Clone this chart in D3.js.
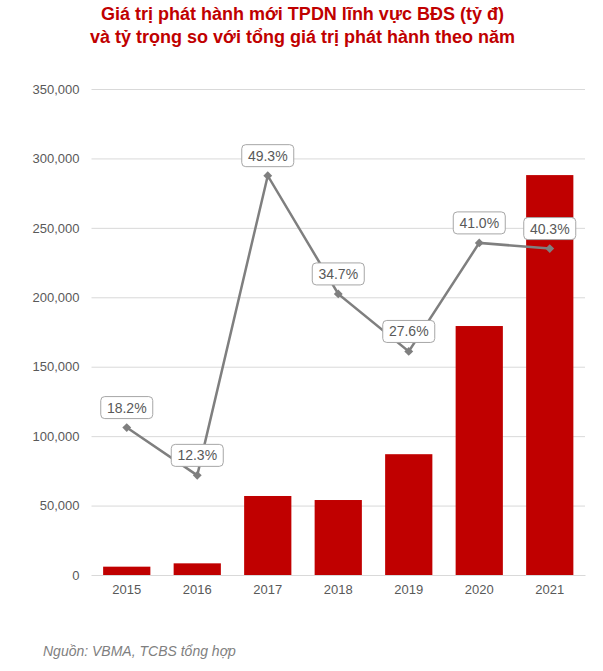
<!DOCTYPE html>
<html><head><meta charset="utf-8">
<script src="https://cdn.jsdelivr.net/npm/d3@7"></script>
<style>body{margin:0;background:#fff}svg{display:block}</style>
</head><body>
<script>
const years = ["2015","2016","2017","2018","2019","2020","2021"];
const issueValues = [6000, 8400, 56900, 54000, 87000, 179300, 288000];
const sharePct = [18.2, 12.3, 49.3, 34.7, 27.6, 41.0, 40.3];
const yTicks = [0, 50000, 100000, 150000, 200000, 250000, 300000, 350000];
const titleLines = ["Giá trị phát hành mới TPDN lĩnh vực BĐS (tỷ đ)", "và tỷ trọng so với tổng giá trị phát hành theo năm"];
const sourceText = "Nguồn: VBMA, TCBS tổng hợp";

const W = 603, H = 671;
const m = {left: 91.5, right: 18, top: 89, bottom: 96};
const svg = d3.select("body").append("svg").attr("width", W).attr("height", H)
  .style("font-family", "'Liberation Sans', Arial, sans-serif");

const x = d3.scaleBand().domain(years).range([m.left, W - m.right]).paddingInner(0.33).paddingOuter(0.165);
const y = d3.scaleLinear().domain([0, 350000]).range([H - m.bottom, m.top]);
const y2 = d3.scaleLinear().domain([0, 60]).range([H - m.bottom, m.top]);

// title
svg.append("g").selectAll("text").data(titleLines).join("text")
  .attr("x", W/2 + 1).attr("y", (d,i) => 20 + i*23)
  .attr("text-anchor", "middle").attr("font-size", 18).attr("font-weight", "bold")
  .attr("fill", "#c00000").text(d => d);

// grid + y axis
const ya = svg.append("g").attr("transform", `translate(${m.left},0)`)
  .call(d3.axisLeft(y).tickValues(yTicks).tickSize(-(W - m.right - m.left)).tickPadding(12).tickFormat(d3.format(",")));
ya.select(".domain").remove();
ya.selectAll(".tick line").attr("stroke", "#d9d9d9").attr("stroke-width", 1);
ya.selectAll(".tick text").attr("fill", "#595959").attr("font-size", 13)
  .style("font-family", "'Liberation Sans', Arial, sans-serif");

// bars
svg.append("g").selectAll("rect").data(years).join("rect")
  .attr("x", d => x(d)).attr("width", x.bandwidth())
  .attr("y", (d,i) => y(issueValues[i])).attr("height", (d,i) => y(0) - y(issueValues[i]))
  .attr("fill", "#c00000");

// x axis
const xa = svg.append("g").attr("transform", `translate(0,${H - m.bottom})`)
  .call(d3.axisBottom(x).tickSize(0).tickPadding(10));
xa.select(".domain").attr("stroke", "#d9d9d9");
xa.selectAll(".tick text").attr("fill", "#595959").attr("font-size", 13)
  .style("font-family", "'Liberation Sans', Arial, sans-serif");

// line
const cx = d => x(d) + x.bandwidth()/2;
const line = d3.line().x((d,i) => cx(years[i])).y(d => y2(d));
svg.append("path").datum(sharePct).attr("d", line)
  .attr("fill", "none").attr("stroke", "#7f7f7f").attr("stroke-width", 2.5);
svg.append("g").selectAll("path").data(sharePct).join("path")
  .attr("d", d3.symbol(d3.symbolDiamond2, 50)())
  .attr("transform", (d,i) => `translate(${cx(years[i])},${y2(d)})`)
  .attr("fill", "#7f7f7f");

// labels
const lg = svg.append("g").selectAll("g").data(sharePct).join("g")
  .attr("transform", (d,i) => `translate(${cx(years[i])},${y2(d) - 20})`);
lg.append("rect").attr("x", -26).attr("y", -11).attr("width", 52).attr("height", 22)
  .attr("rx", 4).attr("fill", "#fff").attr("stroke", "#a6a6a6").attr("stroke-width", 1);
lg.append("text").attr("text-anchor", "middle").attr("dy", "0.36em")
  .attr("font-size", 14).attr("fill", "#595959").text(d => d.toFixed(1) + "%");

// source
svg.append("text").attr("x", 43).attr("y", 656).attr("font-size", 14)
  .attr("font-style", "italic").attr("fill", "#7f7f7f").text(sourceText);
</script>
</body></html>
